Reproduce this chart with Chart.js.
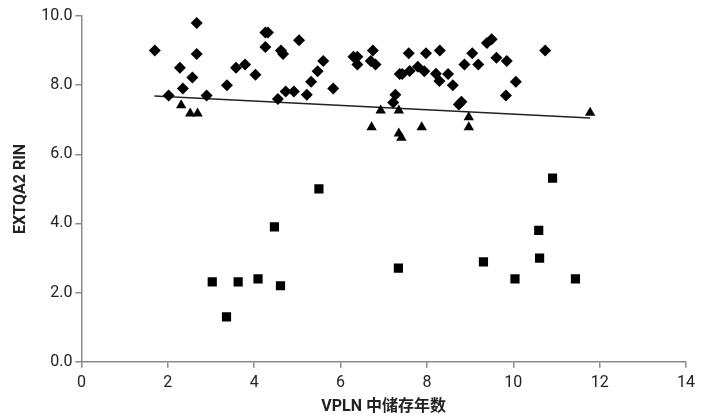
<!DOCTYPE html>
<html>
<head>
<meta charset="utf-8">
<script src="https://cdn.jsdelivr.net/npm/chart.js@4.4.1/dist/chart.umd.min.js"></script>
<style>
  html, body { margin: 0; padding: 0; background: #fff; }
  #wrap { width: 709px; height: 417px; }
</style>
</head>
<body>
<div id="wrap"><canvas id="c" width="709" height="417"></canvas></div>
<script>
// Group 1 (diamonds)
const diamondX = [1.7, 2.02, 2.28, 2.35, 2.57, 2.67, 2.67, 2.9, 3.37, 3.58, 3.79, 4.03, 4.26, 4.32, 4.26, 4.55, 4.62, 4.67, 4.73, 4.92, 5.04, 5.22, 5.32, 5.47, 5.6, 5.83, 6.3, 6.39, 6.39, 6.7, 6.75, 6.81, 7.27, 7.22, 7.37, 7.43, 7.6, 7.58, 7.79, 7.94, 7.98, 8.21, 8.29, 8.3, 8.49, 8.6, 8.74, 8.8, 8.87, 9.05, 9.19, 9.39, 9.5, 9.61, 9.85, 10.06, 9.83, 10.74];
const diamondY = [9.0, 7.7, 8.5, 7.9, 8.22, 9.8, 8.9, 7.7, 8.0, 8.5, 8.6, 8.3, 9.52, 9.52, 9.1, 7.6, 9.0, 8.9, 7.82, 7.82, 9.3, 7.72, 8.1, 8.4, 8.7, 7.9, 8.82, 8.82, 8.6, 8.7, 9.0, 8.6, 7.72, 7.5, 8.32, 8.32, 8.41, 8.92, 8.53, 8.4, 8.92, 8.33, 8.12, 9.0, 8.32, 8.0, 7.44, 7.52, 8.6, 8.92, 8.6, 9.22, 9.33, 8.79, 8.7, 8.1, 7.7, 9.0];
// Group 2 (triangles)
const triangleX = [2.31, 2.52, 2.69, 6.72, 6.93, 7.35, 7.35, 7.41, 7.88, 8.97, 8.97, 11.78];
const triangleY = [7.42, 7.18, 7.18, 6.78, 7.27, 7.27, 6.6, 6.48, 6.78, 7.07, 6.78, 7.2];
// Group 3 (squares)
const squareX = [3.03, 3.36, 3.63, 4.09, 4.47, 4.61, 5.5, 7.34, 9.31, 10.04, 10.59, 10.61, 10.91, 11.44];
const squareY = [2.31, 1.3, 2.31, 2.4, 3.9, 2.2, 5.0, 2.71, 2.89, 2.4, 3.8, 3.0, 5.31, 2.4];
// Trend line end points
const trendX = [1.69, 11.78];
const trendY = [7.69, 7.05];

const xTicks = [0, 2, 4, 6, 8, 10, 12, 14];
const yTicks = [0, 2, 4, 6, 8, 10];
const xTitle = 'VPLN 中储存年数';
const yTitle = 'EXTQA2 RIN';

const pts = (xs, ys) => xs.map((x, i) => ({ x: x, y: ys[i] }));

const axisColor = '#8a8a8a';
const tickFont = { family: 'Roboto, "Noto Sans CJK SC", sans-serif', size: 16 };
const titleFont = { family: 'Roboto, "Noto Sans CJK SC", sans-serif', size: 16, weight: 'bold' };
const xTitleFont = { family: 'Roboto, "Noto Sans CJK SC", sans-serif', size: 16, weight: 'bold', lineHeight: 1 };

new Chart(document.getElementById('c'), {
  type: 'scatter',
  data: {
    datasets: [
      { label: 'diamonds', data: pts(diamondX, diamondY), pointStyle: 'rectRot', pointRadius: 6,
        backgroundColor: '#000', borderColor: '#000', borderWidth: 0 },
      { label: 'triangles', data: pts(triangleX, triangleY), pointStyle: 'triangle', pointRadius: 6,
        backgroundColor: '#000', borderColor: '#000', borderWidth: 0 },
      { label: 'squares', data: pts(squareX, squareY), pointStyle: 'rect', pointRadius: 6.5,
        backgroundColor: '#000', borderColor: '#000', borderWidth: 0 },
      { label: 'trend', type: 'line', data: pts(trendX, trendY), showLine: true, pointRadius: 0,
        borderColor: '#222', borderWidth: 1.5, fill: false }
    ]
  },
  options: {
    responsive: false,
    animation: false,
    layout: { padding: { left: 11, right: 23, top: 16, bottom: 2 } },
    plugins: { legend: { display: false }, tooltip: { enabled: false } },
    scales: {
      x: {
        type: 'linear', min: 0, max: 14,
        afterBuildTicks: (s) => { s.ticks = xTicks.map(v => ({ value: v })); },
        ticks: { color: '#222', font: tickFont, padding: 6,
          callback: (v) => String(v) },
        grid: { display: true, drawOnChartArea: false, drawTicks: true, tickLength: 6, color: axisColor, lineWidth: 1.5 },
        border: { display: true, color: axisColor, width: 1.5 },
        title: { display: true, text: xTitle, color: '#222', font: xTitleFont, padding: { top: 0, bottom: 0 } }
      },
      y: {
        type: 'linear', min: 0, max: 10,
        afterBuildTicks: (s) => { s.ticks = yTicks.map(v => ({ value: v })); },
        ticks: { color: '#222', font: tickFont, padding: 3,
          callback: (v) => Number(v).toFixed(1) },
        grid: { display: true, drawOnChartArea: false, drawTicks: true, tickLength: 6, color: axisColor, lineWidth: 1.5 },
        border: { display: true, color: axisColor, width: 1.5 },
        title: { display: true, text: yTitle, color: '#222', font: titleFont, padding: { top: 0, bottom: 8 } }
      }
    }
  }
});
</script>
</body>
</html>
